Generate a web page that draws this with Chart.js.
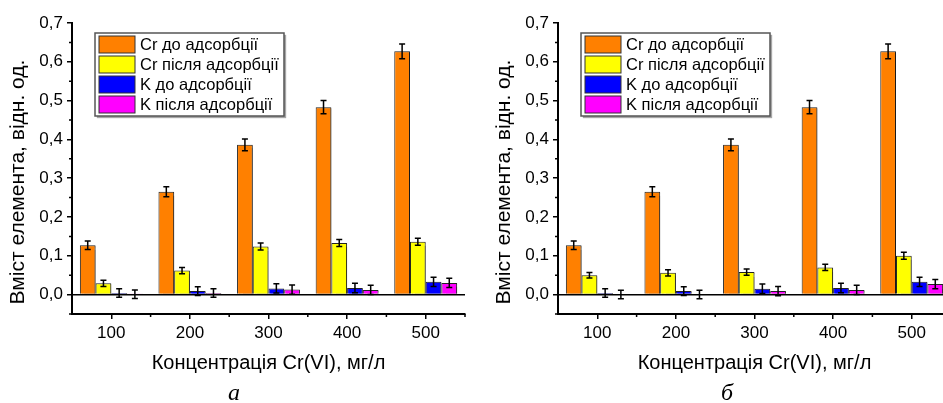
<!DOCTYPE html>
<html>
<head>
<meta charset="utf-8">
<script src="https://cdn.jsdelivr.net/npm/chart.js@4.4.1/dist/chart.umd.min.js"></script>
<style>
  html, body { margin: 0; padding: 0; background: #fff; }
  #wrap { position: relative; width: 943px; height: 403px; overflow: hidden; }
  canvas { position: absolute; top: 0; }
  #chartA { left: 0; }
  #chartB { left: 486px; }
</style>
</head>
<body>
<div id="wrap">
  <canvas id="chartA" width="470" height="403"></canvas>
  <canvas id="chartB" width="470" height="403"></canvas>
</div>
<script>
// ---- Data ----
const categories = ['100', '200', '300', '400', '500'];
const seriesLabels = ['Cr до адсорбції', 'Cr після адсорбції', 'K до адсорбції', 'K після адсорбції'];
const seriesColors = ['#ff8000', '#ffff00', '#0000ff', '#ff00ff'];
const yTickValues = [0, 0.1, 0.2, 0.3, 0.4, 0.5, 0.6, 0.7];
const yMinorValues = [-0.05, 0.05, 0.15, 0.25, 0.35, 0.45, 0.55, 0.65];

// panel а
const crBeforeA = [0.127, 0.265, 0.386, 0.483, 0.627];
const crAfterA  = [0.029, 0.062, 0.124, 0.133, 0.136];
const kBeforeA  = [0.004, 0.009, 0.016, 0.017, 0.033];
const kAfterA   = [0.001, 0.004, 0.013, 0.012, 0.030];
const crBeforeErrA = [0.011, 0.013, 0.015, 0.017, 0.019];
const crAfterErrA  = [0.008, 0.008, 0.009, 0.009, 0.009];
const kBeforeErrA  = [0.011, 0.011, 0.012, 0.012, 0.012];
const kAfterErrA   = [0.011, 0.011, 0.012, 0.012, 0.012];

// panel б
const crBeforeB = [0.127, 0.265, 0.386, 0.483, 0.627];
const crAfterB  = [0.050, 0.056, 0.058, 0.070, 0.100];
const kBeforeB  = [0.004, 0.009, 0.015, 0.017, 0.033];
const kAfterB   = [0.000, 0.000, 0.009, 0.012, 0.027];
const crBeforeErrB = [0.011, 0.013, 0.015, 0.017, 0.019];
const crAfterErrB  = [0.007, 0.008, 0.008, 0.008, 0.009];
const kBeforeErrB  = [0.011, 0.011, 0.012, 0.012, 0.012];
const kAfterErrB   = [0.011, 0.011, 0.012, 0.012, 0.012];

const FONT = '"Liberation Sans", Arial, sans-serif';

// ---- Decorations: bar shadow, error bars, minor ticks, legend, titles ----
const decorPlugin = {
  id: 'decor',
  beforeDatasetsDraw(chart) {
    const ctx = chart.ctx;
    ctx.save();
    ctx.shadowColor = 'rgba(0,0,0,0.35)';
    ctx.shadowOffsetX = 2;
    ctx.shadowOffsetY = 1;
    ctx.shadowBlur = 1;
  },
  afterDatasetsDraw(chart) {
    const ctx = chart.ctx;
    ctx.restore();
    const ys = chart.scales.y;
    ctx.save();
    ctx.strokeStyle = '#000';
    ctx.lineWidth = 1.5;
    chart.data.datasets.forEach((ds, i) => {
      chart.getDatasetMeta(i).data.forEach((bar, j) => {
        const v = ds.data[j], e = ds.errors[j];
        const y1 = ys.getPixelForValue(v - e), y2 = ys.getPixelForValue(v + e);
        ctx.beginPath();
        ctx.moveTo(bar.x, y1); ctx.lineTo(bar.x, y2);
        ctx.moveTo(bar.x - 3, y1); ctx.lineTo(bar.x + 3, y1);
        ctx.moveTo(bar.x - 3, y2); ctx.lineTo(bar.x + 3, y2);
        ctx.stroke();
      });
    });
    ctx.restore();
  },
  afterDraw(chart, args, opts) {
    const ctx = chart.ctx;
    const area = chart.chartArea;
    const ys = chart.scales.y;
    ctx.save();

    // minor ticks
    ctx.strokeStyle = '#000';
    ctx.lineWidth = 1.5;
    ctx.beginPath();
    yMinorValues.forEach(v => {
      const py = ys.getPixelForValue(v);
      ctx.moveTo(area.left, py); ctx.lineTo(area.left - 3, py);
    });
    const step = (area.right - area.left) / categories.length;
    for (let k = 1; k <= categories.length; k++) {
      const px = area.left + k * step;
      ctx.moveTo(px, area.bottom); ctx.lineTo(px, area.bottom + 3);
    }
    ctx.stroke();

    // legend
    const lx = area.left + 23, ly = 33, lw = 189, lh = 83;
    ctx.save();
    ctx.shadowColor = 'rgba(0,0,0,0.35)';
    ctx.shadowOffsetX = 2; ctx.shadowOffsetY = 2; ctx.shadowBlur = 1;
    ctx.fillStyle = '#fff';
    ctx.fillRect(lx, ly, lw, lh);
    ctx.restore();
    ctx.strokeStyle = '#555';
    ctx.lineWidth = 1.5;
    ctx.strokeRect(lx, ly, lw, lh);
    ctx.font = '16.5px ' + FONT;
    ctx.textBaseline = 'middle';
    ctx.textAlign = 'left';
    chart.data.datasets.forEach((ds, i) => {
      const cy = 44.5 + i * 20;
      ctx.fillStyle = ds.backgroundColor;
      ctx.fillRect(lx + 4, cy - 8.5, 36, 17);
      ctx.strokeStyle = '#333';
      ctx.lineWidth = 1;
      ctx.strokeRect(lx + 4, cy - 8.5, 36, 17);
      ctx.fillStyle = '#000';
      ctx.fillText(ds.label, lx + 45, cy + 1);
    });

    // y title
    ctx.save();
    ctx.translate(18, 182);
    ctx.rotate(-Math.PI / 2);
    ctx.font = '21px ' + FONT;
    ctx.textAlign = 'center';
    ctx.textBaseline = 'middle';
    ctx.fillStyle = '#000';
    ctx.fillText('Вміст елемента, відн. од.', 0, 0);
    ctx.restore();

    // panel caption
    ctx.font = 'italic 24px "Liberation Serif", "Times New Roman", serif';
    ctx.textAlign = 'center';
    ctx.textBaseline = 'alphabetic';
    ctx.fillStyle = '#000';
    ctx.fillText(opts.caption, opts.captionX, 400);
    ctx.restore();
  }
};

function makeChart(id, values, errors, caption, captionX) {
  return new Chart(document.getElementById(id), {
    type: 'bar',
    data: {
      labels: categories,
      datasets: values.map((d, i) => ({
        label: seriesLabels[i],
        data: d,
        errors: errors[i],
        backgroundColor: seriesColors[i],
        borderColor: '#222',
        borderWidth: 1,
        barPercentage: 1.0,
        categoryPercentage: 0.8
      }))
    },
    options: {
      responsive: false,
      animation: false,
      layout: { padding: { left: 0, right: 5, top: 23, bottom: 0 } },
      plugins: {
        legend: { display: false },
        tooltip: { enabled: false },
        decor: { caption: caption, captionX: captionX }
      },
      scales: {
        x: {
          offset: true,
          afterFit: s => { s.height = 89; },
          grid: { drawOnChartArea: false, offset: false, tickLength: 5, color: '#000', lineWidth: 1.5 },
          border: { display: true, color: '#000', width: 2 },
          ticks: { color: '#000', font: { family: FONT, size: 17 }, padding: 4, maxRotation: 0 },
          title: {
            display: true,
            text: 'Концентрація Cr(VI), мг/л',
            color: '#000',
            font: { family: FONT, size: 20 },
            padding: { top: 0, bottom: 28 }
          }
        },
        y: {
          min: -0.05, max: 0.7,
          afterFit: s => { s.width = 72; },
          afterBuildTicks: s => { s.ticks = yTickValues.map(v => ({ value: v })); },
          grid: {
            drawOnChartArea: true,
            color: c => (c.tick && c.tick.value === 0 ? '#000' : 'rgba(0,0,0,0)'),
            tickColor: '#000',
            tickLength: 5,
            lineWidth: 1.5
          },
          border: { display: true, color: '#000', width: 2 },
          ticks: {
            color: '#000',
            font: { family: FONT, size: 17 },
            padding: 4,
            callback: v => v.toFixed(1).replace('.', ',')
          }
        }
      }
    },
    plugins: [decorPlugin]
  });
}

makeChart('chartA',
  [crBeforeA, crAfterA, kBeforeA, kAfterA],
  [crBeforeErrA, crAfterErrA, kBeforeErrA, kAfterErrA],
  'а', 234);
makeChart('chartB',
  [crBeforeB, crAfterB, kBeforeB, kAfterB],
  [crBeforeErrB, crAfterErrB, kBeforeErrB, kAfterErrB],
  'б', 241);
</script>
</body>
</html>
